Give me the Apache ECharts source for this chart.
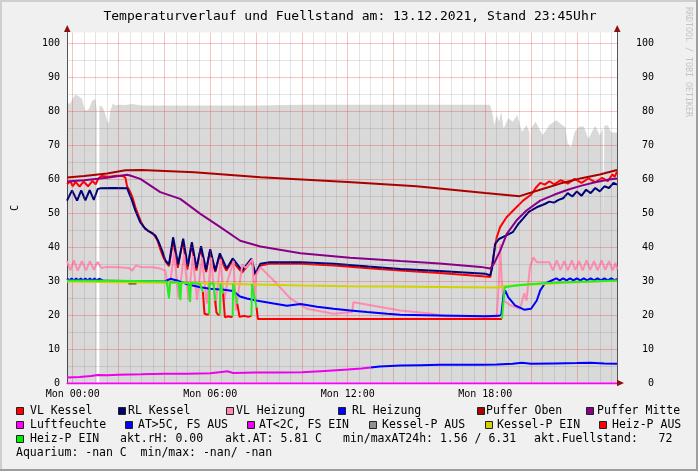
<!DOCTYPE html>
<html><head><meta charset="utf-8">
<script src="https://cdn.jsdelivr.net/npm/echarts@6/dist/echarts.min.js"></script>
<style>html,body{margin:0;padding:0;background:#f0f0f0;}#c{width:698px;height:471px;}</style>
</head><body><div id="c"></div>
<script>
// ---- data (x = hours since Mon 00:00, y = value) ----
const xTickHours = [0, 6, 12, 18];
const xTickLabels = ['Mon 00:00', 'Mon 06:00', 'Mon 12:00', 'Mon 18:00'];
const yTickValues = [0, 10, 20, 30, 40, 50, 60, 70, 80, 90, 100];

const fuellstand = [[-0.25,82.7],[-0.12,82.2],[0.0,83.8],[0.12,85.0],[0.19,85.4],[0.28,84.4],[0.41,83.7],[0.52,80.5],[0.62,80.3],[0.72,80.9],[0.84,83.2],[0.99,83.7],[1.05,80.3],[1.1,'-'],[1.16,81.8],[1.3,81.3],[1.42,79.3],[1.5,77.4],[1.58,76.5],[1.64,80.3],[1.76,82.4],[1.86,81.8],[2.0,82.0],[2.3,81.9],[2.6,82.2],[3.0,81.8],[5,81.8],[8,81.8],[10,82.0],[14,82.0],[18.2,82.0],
 [18.3,80],[18.4,76],[18.5,79],[18.6,77],[18.7,80],[18.8,75],[19.0,78],[19.2,77],[19.4,79],[19.6,74],[19.8,76],[19.93,74],[19.96,44.5],[19.99,75],[20.2,77],[20.5,73],[20.8,76],[21.1,77.4],[21.3,76.3],[21.5,75.3],[21.6,70.6],[21.75,69.5],[21.9,74],[22.1,75.6],[22.3,75.6],[22.5,72],[22.8,75.8],[23.0,73],[23.13,75],[23.16,50],[23.2,75.9],[23.35,75.9],[23.5,73.8],[23.75,73.8]];

const vlKessel = [[-0.25,58.6],[-0.1,59.5],[0.0,58.0],[0.12,59.3],[0.3,57.9],[0.47,59.4],[0.67,58.0],[0.86,59.6],[1.0,58.6],[1.12,60.3],[1.25,61.0],[1.6,60.8],[1.9,61.1],[2.2,61.0],[2.3,60.5],[2.37,58.0],[2.5,56.5],[2.62,54.5],[2.75,51.5],[2.95,48.0],[3.1,46.0],[3.3,44.8],[3.5,44.2],[3.69,42.2],[3.82,39.5],[3.95,37.2],[4.04,36.0],[4.2,34.5],[4.38,42.0],[4.58,34.0],[4.8,41.8],[5.0,33.5],[5.18,40.8],[5.4,33.2],[5.58,39.8],[5.82,32.8],[5.98,38.8],[6.22,32.8],[6.4,37.5],[6.7,33.2],[6.96,36.0],[7.39,32.6],[7.8,36.0],[7.97,31.8],[8.19,34.7],[8.6,35.2],[9.94,35.2],[11.4,34.7],[12.9,33.9],[14.3,33.2],[16,32.5],[18.0,31.5],[18.22,31.3],[18.35,37],[18.5,43],[18.65,46],[18.93,48.9],[19.22,50.9],[19.65,53.8],[20.0,55.5],[20.2,57.5],[20.4,59],[20.6,58.5],[20.8,59.5],[21.0,58.6],[21.3,59.8],[21.6,58.8],[21.9,60.2],[22.2,59.0],[22.5,60.3],[22.8,59.2],[23.1,60.5],[23.35,59.5],[23.55,61.5],[23.65,60.8],[23.75,62.3]];

const rlKessel = [[-0.25,53.8],[-0.03,56.8],[0.19,53.8],[0.37,56.8],[0.55,53.9],[0.74,56.9],[0.92,54.0],[1.09,57.2],[1.2,57.4],[1.8,57.5],[2.38,57.4],[2.44,56.3],[2.59,53.8],[2.73,50.9],[2.95,47.4],[3.17,45.5],[3.39,44.5],[3.61,43.5],[3.75,41.6],[3.9,39.1],[4.04,36.2],[4.2,35.0],[4.38,43.0],[4.6,35.0],[4.82,42.6],[5.02,34.5],[5.2,41.6],[5.4,34.0],[5.6,40.4],[5.82,33.4],[6.0,39.5],[6.22,33.2],[6.42,38.3],[6.72,33.8],[6.98,36.8],[7.39,33.2],[7.8,36.7],[7.97,32.3],[8.19,35.2],[8.6,35.7],[9.94,35.7],[11.4,35.2],[12.9,34.4],[14.3,33.7],[16,33.1],[18.0,32.3],[18.22,31.8],[18.3,34],[18.43,41],[18.6,42.5],[18.9,43.5],[19.2,44.5],[19.45,47],[19.65,48.5],[19.9,50.5],[20.3,52],[20.6,52.8],[20.8,53.5],[21.0,53.2],[21.2,54],[21.4,54.5],[21.6,56],[21.8,55],[22.0,56.5],[22.2,55.2],[22.4,57],[22.6,56],[22.8,57.5],[23.0,56.5],[23.2,58],[23.4,57.5],[23.6,59],[23.75,58.5]];

const vlHeizung = [[-0.25,36.0],[-0.1,33.3],[0.05,36.2],[0.22,33.2],[0.4,36.0],[0.58,33.3],[0.75,36.0],[0.92,33.4],[1.08,35.8],[1.25,34.0],[1.5,34.3],[2.0,34.2],[2.45,34.0],[2.6,33.2],[2.75,34.7],[2.95,34.3],[3.5,34.2],[3.82,33.8],[4.04,33.2],[4.2,26.5],[4.42,38.5],[4.62,25.0],[4.86,38.0],[5.05,24.5],[5.24,37.5],[5.42,24.5],[5.64,37.0],[5.85,23.5],[6.04,37.0],[6.22,22.5],[6.46,36.5],[6.6,24.0],[6.75,30],[7.02,36.0],[7.12,21.5],[7.4,35.0],[7.55,34.0],[7.84,36.5],[7.92,24.5],[8.0,32],[8.19,34.2],[8.77,30.3],[9.5,25],[10.22,22],[11.38,20.5],[12.19,21],[12.25,23.9],[14.29,21.5],[15.6,20.6],[16.25,19.8],[18.5,19.6],[18.6,30],[18.65,41],[18.72,30],[18.8,24.4],[19.1,23.0],[19.52,22.0],[19.7,26.5],[19.8,24.4],[19.95,34.2],[20.1,37.1],[20.25,35.7],[20.8,35.7],[20.95,33.3],[21.12,36.2],[21.28,33.4],[21.45,36.0],[21.6,33.3],[21.78,36.2],[21.93,33.4],[22.1,36.0],[22.25,33.3],[22.42,36.2],[22.58,33.4],[22.75,36.0],[22.9,33.3],[23.08,36.2],[23.24,33.4],[23.4,36.0],[23.56,33.3],[23.68,35.5],[23.75,33.6]];

const rlHeizung = [[-0.25,30.9],[-0.15,30.3],[-0.05,30.9],[0.05,30.3],[0.15,30.9],[0.25,30.3],[0.35,30.9],[0.45,30.3],[0.55,30.9],[0.65,30.3],[0.75,30.9],[0.85,30.3],[0.95,30.9],[1.05,30.3],[1.15,30.8],[1.35,30.2],[4.0,30.0],[4.26,30.8],[4.6,30.2],[5.0,29.2],[5.57,28.3],[6.0,27.9],[6.6,27.6],[7.0,27.2],[7.3,25.6],[7.6,25.0],[8.0,24.4],[8.77,23.5],[9.35,22.9],[9.94,23.4],[10.66,22.6],[11.38,22.0],[12.11,21.5],[12.84,21.0],[13.72,20.5],[14.29,20.2],[16.0,20.0],[18.0,19.8],[18.6,19.9],[18.7,20.2],[18.8,26],[18.87,27.4],[19.0,25.4],[19.3,23.0],[19.7,21.7],[20.0,22.0],[20.25,24.4],[20.4,27.4],[20.6,29.4],[20.9,30.3],[21.1,30.9],[21.25,30.3],[21.4,30.9],[21.55,30.3],[21.7,30.9],[21.85,30.3],[22.0,30.9],[22.15,30.3],[22.3,30.9],[22.45,30.3],[22.6,30.9],[22.75,30.3],[22.9,30.9],[23.05,30.3],[23.2,30.9],[23.35,30.3],[23.5,30.9],[23.65,30.3],[23.75,30.8]];

const pufferOben = [[-0.25,60.6],[0.5,61.0],[1.5,61.8],[2.3,62.7],[3.0,62.8],[5.3,62.1],[8.2,60.7],[12,59.3],[15,58.0],[18,56.0],[19.5,55.1],[20.5,57.2],[21.27,58.8],[22.2,60.4],[23.0,61.5],[23.75,62.8]];

const pufferMitte = [[-0.25,59.4],[0.5,59.8],[1.5,60.5],[2.37,61.4],[2.5,61.2],[2.95,60.2],[3.82,56.3],[4.69,54.3],[5.57,49.9],[6.44,46],[7.31,42],[8.19,40.3],[9.94,38.3],[12.1,37.0],[14.3,36.0],[16.0,35.3],[17.8,34.3],[18.22,33.8],[18.4,35.5],[18.65,39],[18.94,44],[19.37,48],[19.8,50.9],[20.4,53.8],[21.0,55.5],[21.6,57],[22.2,58.2],[22.8,59.2],[23.4,60],[23.75,60.3]];

const luftfeuchte = [[-0.25,0],[23.75,0]];

const atUnter2 = [[-0.25,1.8],[0.3,1.9],[0.8,2.2],[1.1,2.5],[1.5,2.4],[2.0,2.6],[3.0,2.7],[4.0,2.85],[5.0,2.9],[6.0,3.0],[6.5,3.4],[6.75,3.6],[7.0,3.1],[8.0,3.2],[9.0,3.2],[10.0,3.3],[11.0,3.7],[12.0,4.1],[12.6,4.4],[13.0,4.7]];
const atUeber5 = [[13.0,4.7],[13.4,5.0],[14.3,5.3],[15.2,5.4],[16.0,5.5],[16.9,5.5],[17.8,5.5],[18.5,5.6],[19.2,5.8],[19.6,6.1],[20.0,5.8],[21.0,5.9],[22.0,6.0],[22.6,6.1],[23.2,5.9],[23.75,5.8]];

const kesselPAus = [[2.43,29.4],[2.78,29.4]];
const kesselPEin = [[-0.25,30.0],[2,29.8],[4,29.6],[6,29.4],[8,29.1],[10,28.8],[12,28.6],[14,28.5],[16,28.4],[18.5,28.2],[18.8,28.6],[19.5,28.9],[20.5,29.3],[21.5,29.6],[22.5,29.9],[23.75,30.2]];

const heizPEin = [[-0.25,30.3],[2,30.2],[4.1,30.0],[4.2,25.0],[4.25,29.8],[4.62,29.8],[4.7,24.5],[4.74,29.8],[5.05,29.6],[5.12,24.0],[5.16,29.6],[5.55,29.3],[5.68,26.9],[5.7,'-'],[5.95,20.4],[5.97,29.4],[6.15,29.4],[6.22,24.4],[6.25,'-'],[6.42,20.2],[6.44,29.4],[6.5,29.4],[6.56,26.5],[6.6,'-'],[6.98,19.8],[7.0,29.3],[7.18,23.5],[7.2,'-'],[7.8,19.9],[7.82,29.2],[8.02,22.4],[8.1,'-'],[18.73,19.0],[18.85,28.3],[19.2,28.7],[19.52,29.0],[20.5,29.5],[21.5,29.8],[22.5,30.0],[23.75,30.3]];
const heizPAus = [[5.68,26.9],[5.75,20.5],[5.85,20.3],[5.95,20.4],[5.96,'-'],[6.22,24.4],[6.27,20.9],[6.35,20.2],[6.42,20.2],[6.43,'-'],[6.56,26.5],[6.64,19.5],[6.8,19.8],[6.9,19.5],[6.98,19.8],[6.99,'-'],[7.18,23.5],[7.28,19.6],[7.5,19.9],[7.65,19.6],[7.8,19.9],[7.81,'-'],[8.02,22.4],[8.08,19.0],[12.2,19.0],[12.25,19.3],[12.3,19.0],[18.73,19.0]];

// grid line positions (hours / values)
const vGridHours = []; for (let h = 0; h < 24; h += 0.5) vGridHours.push(h);
const hGridValues = []; for (let v = 5; v <= 100; v += 5) hGridValues.push(v);

// ---- chart ----
const FONT = '"DejaVu Sans Mono", monospace';
const RED_GRID = 'rgba(230,60,60,0.30)';
const GREY_GRID = 'rgba(120,120,120,0.20)';

function line(name, data, color, z, extra) {
  return Object.assign({
    name, type: 'line', data, showSymbol: false, symbol: 'none', z: z,
    lineStyle: { color, width: 2 }, itemStyle: { color },
    animation: false, silent: true
  }, extra || {});
}

const gridMarks = vGridHours.map(h => ({ xAxis: h, lineStyle: { color: (h % 2 === 0) ? RED_GRID : GREY_GRID, width: 1, type: 'solid' } }))
  .concat(hGridValues.map(v => ({ yAxis: v, lineStyle: { color: (v % 10 === 0) ? RED_GRID : GREY_GRID, width: 1, type: 'solid' } })));

const series = [
  { name: 'grid', type: 'line', data: [[-0.25, '-']], z: 0, silent: true, animation: false, showSymbol: false,
    markLine: { silent: true, symbol: ['none', 'none'], label: { show: false }, animation: false, emphasis: { disabled: true }, data: gridMarks } },
  line('Fuellstand', fuellstand, 'rgba(0,0,0,0)', 1, {
    lineStyle: { width: 0, color: 'rgba(0,0,0,0)' },
    areaStyle: { color: 'rgba(0,0,0,0.15)', opacity: 1 }
  }),
  line('VL Kessel', vlKessel, '#ff0000', 2),
  line('RL Kessel', rlKessel, '#00007a', 3),
  line('VL Heizung', vlHeizung, '#ff8cb0', 4),
  line('RL Heizung', rlHeizung, '#0000ff', 5),
  line('Puffer Oben', pufferOben, '#aa0000', 6),
  line('Puffer Mitte', pufferMitte, '#880088', 7),
  line('Luftfeuchte', luftfeuchte, '#ff00ff', 8),
  line('AT>5C, FS AUS', atUeber5, '#0000ff', 9),
  line('AT<2C, FS EIN', atUnter2, '#ee00ee', 9),
  line('Kessel-P AUS', kesselPAus, '#404040', 10),
  line('Kessel-P EIN', kesselPEin, '#d2d200', 10),
  line('Heiz-P AUS', heizPAus, '#ff0000', 11),
  line('Heiz-P EIN', heizPEin, '#22ee22', 12)
];

// legend drawn as graphic elements (RRDtool style)
const legendRows = [
  { y: 411, items: [['VL Kessel','#ff0000',16,30],['RL Kessel','#00006e',118,128],['VL Heizung','#ff8cb0',226,236],['RL Heizung','#0000ff',338,352],['Puffer Oben','#b00000',477,486],['Puffer Mitte','#880088',586,597]] },
  { y: 425, items: [['Luftfeuchte','#ff00ff',16,30],['AT>5C, FS AUS','#0000ff',125,138],['AT<2C, FS EIN','#ee00ee',247,259],['Kessel-P AUS','#909090',369,382],['Kessel-P EIN','#d2d200',485,497],['Heiz-P AUS','#ff0000',599,612]] },
  { y: 439, items: [['Heiz-P EIN','#00ee00',16,30]] }
];
const legendTexts = [
  ['akt.rH: 0.00', 120, 439], ['akt.AT: 5.81 C', 225, 439], ['min/maxAT24h: 1.56 / 6.31', 343, 439], ['akt.Fuellstand:   72', 534, 439],
  ['Aquarium: -nan C  min/max: -nan/ -nan', 16, 453]
];
const graphic = [];
graphic.push({ type: 'rect', shape: { x: 0, y: 0, width: 698, height: 2 }, style: { fill: '#cfcfcf' }, silent: true });
graphic.push({ type: 'rect', shape: { x: 0, y: 0, width: 2, height: 471 }, style: { fill: '#cfcfcf' }, silent: true });
graphic.push({ type: 'rect', shape: { x: 0, y: 469, width: 698, height: 2 }, style: { fill: '#9e9e9e' }, silent: true });
graphic.push({ type: 'rect', shape: { x: 696, y: 0, width: 2, height: 471 }, style: { fill: '#9e9e9e' }, silent: true });
graphic.push({ type: 'polygon', shape: { points: [[64, 32], [70.5, 32], [67.25, 25]] }, style: { fill: '#8b1010' }, silent: true, z: 100 });
graphic.push({ type: 'polygon', shape: { points: [[614, 32], [620.5, 32], [617.25, 25]] }, style: { fill: '#8b1010' }, silent: true, z: 100 });
graphic.push({ type: 'polygon', shape: { points: [[617, 379.8], [617, 386.2], [624, 383]] }, style: { fill: '#8b1010' }, silent: true, z: 100 });
legendRows.forEach(r => r.items.forEach(it => {
  graphic.push({ type: 'rect', shape: { x: it[2] + 0.5, y: r.y - 3.5, width: 7, height: 7 }, style: { fill: it[1], stroke: '#222', lineWidth: 1 }, silent: true });
  graphic.push({ type: 'text', x: it[3], y: r.y, style: { text: it[0], font: '11.5px ' + FONT, fill: '#000', verticalAlign: 'middle' }, silent: true });
}));
legendTexts.forEach(t => graphic.push({ type: 'text', x: t[1], y: t[2], style: { text: t[0], font: '11.5px ' + FONT, fill: '#000', verticalAlign: 'middle' }, silent: true }));
graphic.push({ type: 'text', x: 350, y: 17, style: { text: 'Temperaturverlauf und Fuellstand am: 13.12.2021, Stand 23:45Uhr', font: '13px ' + FONT, fill: '#000', align: 'center', verticalAlign: 'middle' }, silent: true });
graphic.push({ type: 'text', x: 688, y: 62, rotation: -Math.PI / 2, style: { text: 'RRDTOOL / TOBI OETIKER', font: '8.3px ' + FONT, fill: '#c4c4c4', align: 'center', verticalAlign: 'middle' }, silent: true });

const yLabel = v => yTickValues.indexOf(v) >= 0 ? String(v) : '';
const xLabel = v => { const i = xTickHours.indexOf(v); return i >= 0 ? xTickLabels[i] : ''; };

const chart = echarts.init(document.getElementById('c'), null, { renderer: 'canvas' });
chart.setOption({
  animation: false,
  backgroundColor: '#f0f0f0',
  textStyle: { fontFamily: FONT },
  grid: { left: 67, top: 32.5, width: 550, height: 351, backgroundColor: '#ffffff', show: true, borderWidth: 0 },
  xAxis: {
    type: 'value', min: -0.25, max: 23.75, interval: 0.25,
    axisLine: { show: true, onZero: false, lineStyle: { color: '#555', width: 1 } },
    axisTick: { show: false },
    axisLabel: { formatter: xLabel, color: '#000', fontSize: 10, fontFamily: FONT, margin: 6 },
    splitLine: { show: false }
  },
  yAxis: [{
    type: 'value', min: 0, max: 103.24, interval: 10, position: 'left',
    name: 'C', nameLocation: 'middle', nameRotate: 90, nameGap: 47,
    nameTextStyle: { color: '#000', fontSize: 10, fontFamily: FONT },
    axisLine: { show: true, onZero: false, lineStyle: { color: '#555', width: 1 } },
    axisTick: { show: false },
    axisLabel: { formatter: yLabel, color: '#000', fontSize: 10, fontFamily: FONT, margin: 7 },
    splitLine: { show: false }
  }, {
    type: 'value', min: 0, max: 103.24, interval: 10, position: 'right',
    axisLine: { show: true, onZero: false, lineStyle: { color: '#555', width: 1 } },
    axisTick: { show: false },
    axisLabel: { formatter: yLabel, color: '#000', fontSize: 10, fontFamily: FONT, margin: 37, align: 'right' },
    splitLine: { show: false }
  }],
  series: series,
  graphic: graphic
});
</script>
</body></html>
